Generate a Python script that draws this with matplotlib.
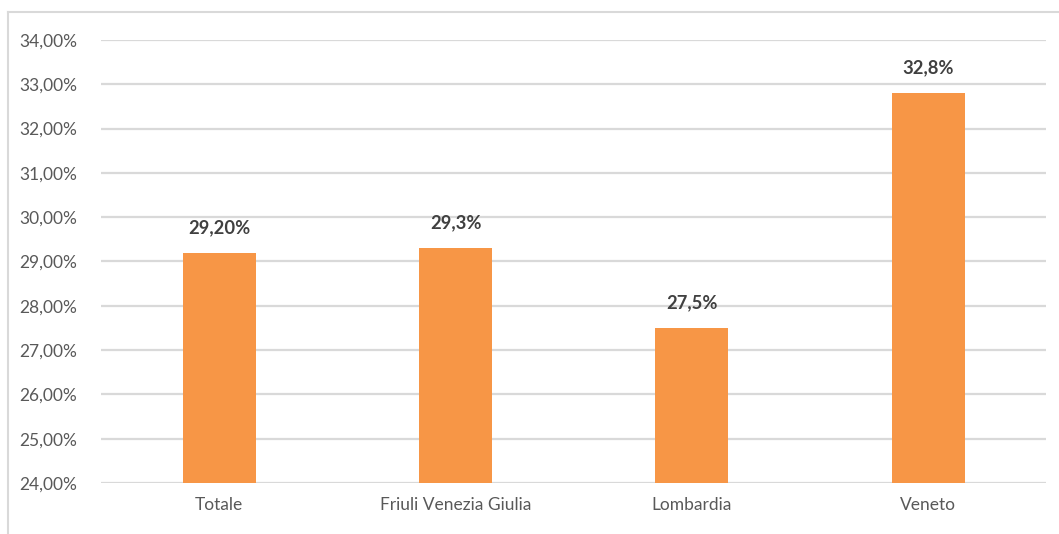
import matplotlib.pyplot as plt
from matplotlib.lines import Line2D

categories = ["Totale", "Friuli Venezia Giulia", "Lombardia", "Veneto"]
values = [29.20, 29.3, 27.5, 32.8]
value_labels = ["29,20%", "29,3%", "27,5%", "32,8%"]
yticks = [24, 25, 26, 27, 28, 29, 30, 31, 32, 33, 34]

plt.rcParams["font.family"] = ["Lato", "DejaVu Sans"]

fig = plt.figure(figsize=(10.59, 5.34), dpi=100)
ax = fig.add_axes([0.0954, 0.0955, 0.8926, 0.8296])

x = range(len(categories))
bars = ax.bar(x, [v - 24 for v in values], bottom=24, width=0.31, color="#F79646", zorder=3)

for xi, v, lab in zip(x, values, value_labels):
    ax.annotate(lab, (xi, v), xytext=(0, 12), textcoords="offset points",
                ha="center", va="bottom", fontsize=13.2, fontweight="bold", color="#404040")

ax.set_xlim(-0.5, len(categories) - 0.5)
ax.set_ylim(24, 34)
ax.set_yticks(yticks)
ax.set_yticklabels([f"{t:.2f}%".replace(".", ",") for t in yticks])
ax.set_xticks(list(x))
ax.set_xticklabels(categories)
ax.tick_params(axis="both", length=0, labelsize=12.5, labelcolor="#595959")
ax.tick_params(axis="y", pad=17)
ax.tick_params(axis="x", pad=10)
ax.grid(axis="y", color="#D9D9D9", linewidth=1.6, zorder=0)
for s in ax.spines.values():
    s.set_visible(False)

# outer chart frame (top and left edges)
fig.add_artist(Line2D([0.008, 1.0], [1 - 11.5 / 534] * 2, color="#D9D9D9", lw=1.5))
fig.add_artist(Line2D([0.008, 0.008], [0, 1 - 11.5 / 534], color="#D9D9D9", lw=1.5))

fig.savefig("out.png", dpi=100)
